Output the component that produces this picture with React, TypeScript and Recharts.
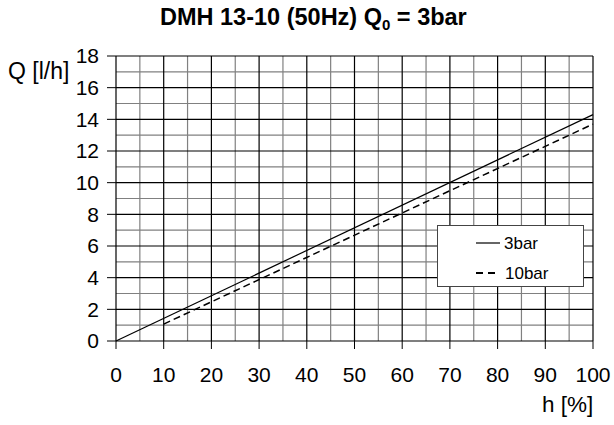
import React from "react";
import { LineChart, Line, XAxis, YAxis, ReferenceLine } from "recharts";

const hTicks = [0, 10, 20, 30, 40, 50, 60, 70, 80, 90, 100];
const qTicks = [0, 2, 4, 6, 8, 10, 12, 14, 16, 18];
const hMinor = [5, 15, 25, 35, 45, 55, 65, 75, 85, 95];
const qMinor = [1, 3, 5, 7, 9, 11, 13, 15, 17];

const h3bar = [0, 100];
const q3bar = [0, 14.3];
const h10bar = [10, 100];
const q10bar = [1.07, 13.7];

const data3bar = h3bar.map((h, i) => ({ h, q: q3bar[i] }));
const data10bar = h10bar.map((h, i) => ({ h, q: q10bar[i] }));

const FONT = "'Liberation Sans', Arial, sans-serif";

function LegendBox() {
  return (
    <div
      style={{
        position: "absolute",
        left: 437,
        top: 225,
        width: 147,
        height: 62,
        boxSizing: "border-box",
        border: "1px solid #444",
        background: "#fff",
      }}
    >
      <svg width={145} height={60} style={{ position: "absolute", left: 0, top: 0 }}>
        <line x1={38} x2={62} y1={17} y2={17} stroke="#000" strokeWidth={1.2} />
        <text x={66} y={23} fontSize={17} fontFamily={FONT}>3bar</text>
        <line x1={38} x2={61} y1={47} y2={47} stroke="#000" strokeWidth={2} strokeDasharray="7 5" />
        <text x={67} y={53} fontSize={17} fontFamily={FONT}>10bar</text>
      </svg>
    </div>
  );
}

export default function App() {
  return (
    <div style={{ position: "absolute", left: 0, top: 0, width: 614, height: 425, background: "#fff", fontFamily: FONT }}>
      <LineChart width={614} height={425} margin={{ top: 56, right: 21, bottom: 0, left: 0 }}>
        <XAxis
          type="number"
          dataKey="h"
          domain={[0, 100]}
          ticks={hTicks}
          interval={0}
          height={84}
          tickSize={8}
          tickMargin={18}
          axisLine={false}
          tickLine={{ stroke: "#000" }}
          tick={{ fontSize: 21, fill: "#000", fontFamily: FONT }}
        />
        <YAxis
          type="number"
          dataKey="q"
          domain={[0, 18]}
          ticks={qTicks}
          interval={0}
          width={116}
          tickSize={9}
          tickMargin={8}
          axisLine={false}
          tickLine={{ stroke: "#000" }}
          tick={{ fontSize: 21, fill: "#000", fontFamily: FONT }}
        />
        {hMinor.map((v) => (
          <ReferenceLine key={"hm" + v} x={v} stroke="#808080" strokeWidth={1.2} />
        ))}
        {qMinor.map((v) => (
          <ReferenceLine key={"qm" + v} y={v} stroke="#808080" strokeWidth={1.2} />
        ))}
        {hTicks.map((v) => (
          <ReferenceLine key={"h" + v} x={v} stroke="#000" strokeWidth={1.2} />
        ))}
        {qTicks.map((v) => (
          <ReferenceLine key={"q" + v} y={v} stroke="#000" strokeWidth={1.2} />
        ))}
        <Line
          data={data3bar}
          dataKey="q"
          name="3bar"
          stroke="#000"
          strokeWidth={1.2}
          dot={false}
          isAnimationActive={false}
        />
        <Line
          data={data10bar}
          dataKey="q"
          name="10bar"
          stroke="#000"
          strokeWidth={1.5}
          strokeDasharray="7 4"
          dot={false}
          isAnimationActive={false}
        />
      </LineChart>
      <LegendBox />
      <div style={{ position: "absolute", left: 160, top: 6, fontSize: 23.5, lineHeight: 1, fontWeight: "bold", whiteSpace: "nowrap" }}>
        DMH 13-10 (50Hz) Q<span style={{ fontSize: 15, position: "relative", top: 5 }}>0</span> = 3bar
      </div>
      <div style={{ position: "absolute", left: 8, top: 60, fontSize: 23, lineHeight: 1, whiteSpace: "nowrap" }}>Q [l/h]</div>
      <div style={{ position: "absolute", left: 542, top: 394, fontSize: 22.5, lineHeight: 1, whiteSpace: "nowrap" }}>h [%]</div>
    </div>
  );
}
